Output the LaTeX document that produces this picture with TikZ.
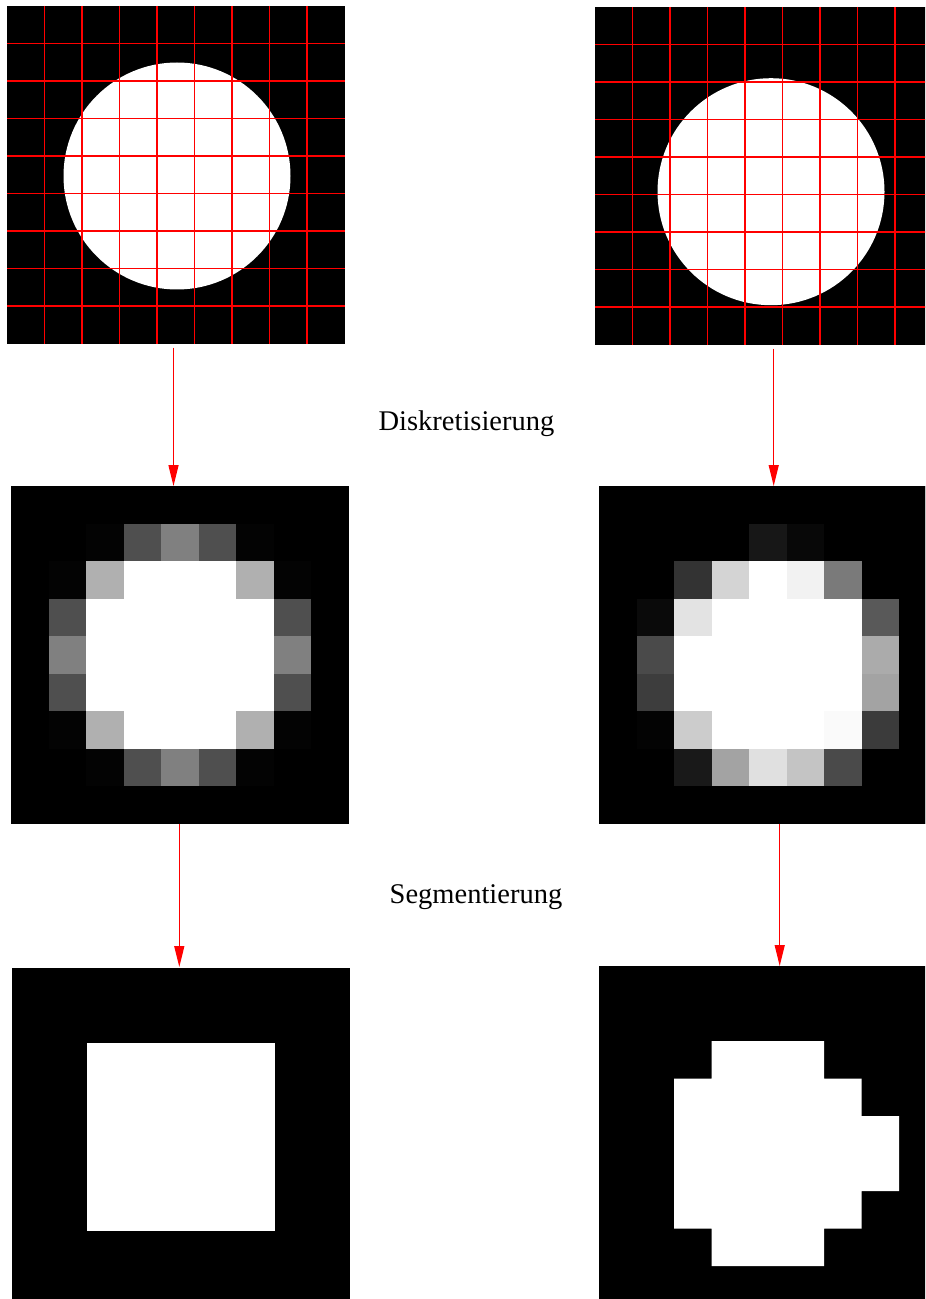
\documentclass[tikz,border=0pt]{standalone}
\usepackage{fontspec}
\setmainfont{Liberation Serif}
\usetikzlibrary{arrows.meta,positioning,calc}

\tikzset{
  panel/.style={fill=black, inner sep=0pt, outer sep=0pt,
    minimum width=168.75pt, minimum height=168.75pt, anchor=north west},
  flow/.style={-{Triangle[width=5pt,length=10.5pt]}, red, line width=0.65pt},
  gridline/.style={red, line width=0.7pt},
  stagelabel/.style={font=\fontsize{14.25}{17}\selectfont, anchor=base, inner sep=0pt}
}
\newcommand{\cellsz}{37.5}

\begin{document}
\begin{tikzpicture}[x=0.5pt,y=-0.5pt]
  \useasboundingbox (0,0) rectangle (925,1299);
  \clip (0,0) rectangle (925,1299);
  % the six images
  \node[panel] (tl) at (7,6) {};
  \node[panel] (tr) at (595,7) {};
  \node[panel] (ml) at (11,486) {};
  \node[panel] (mr) at (599,486) {};
  \node[panel] (bl) at (12,968) {};
  \node[panel] (br) at (599,966) {};

  % object and sampling grid
  \begin{scope}[shift={(tl.north west)}]
    \fill[white] (170,170) circle (113.5);
    \foreach \k in {1,...,8} {
      \draw[gridline] (\k*\cellsz,0) -- (\k*\cellsz,9*\cellsz);
      \draw[gridline] (0,\k*\cellsz) -- (9*\cellsz,\k*\cellsz);
    }
  \end{scope}
  \begin{scope}[shift={(tr.north west)}]
    \fill[white] (176,184.7) circle (113.5);
    \foreach \k in {1,...,8} {
      \draw[gridline] (\k*\cellsz,0) -- (\k*\cellsz,9*\cellsz);
      \draw[gridline] (0,\k*\cellsz) -- (9*\cellsz,\k*\cellsz);
    }
  \end{scope}

  % grey values after sampling
  \begin{scope}[shift={(ml.north west)}, scale=\cellsz]
    \foreach \row [count=\i from 0] in {
      {0,0,0,0,0,0,0,0,0},
      {0,0,1,31,50,31,1,0,0},
      {0,1,69,100,100,100,69,1,0},
      {0,31,100,100,100,100,100,31,0},
      {0,50,100,100,100,100,100,50,0},
      {0,31,100,100,100,100,100,31,0},
      {0,1,69,100,100,100,69,1,0},
      {0,0,1,31,50,31,1,0,0},
      {0,0,0,0,0,0,0,0,0}}
      \foreach \v [count=\j from 0] in \row
        \fill[white!\v!black] (\j,\i) rectangle ++(1.01,1.01);
  \end{scope}
  \begin{scope}[shift={(mr.north west)}, scale=\cellsz]
    \foreach \row [count=\i from 0] in {
      {0,0,0,0,0,0,0,0,0},
      {0,0,0,0,9,3,0,0,0},
      {0,0,20,83,100,95,48,0,0},
      {0,4,89,100,100,100,100,35,0},
      {0,29,100,100,100,100,100,67,0},
      {0,24,100,100,100,100,100,64,0},
      {0,1,80,100,100,100,98,23,0},
      {0,0,10,64,88,77,29,0,0},
      {0,0,0,0,0,0,0,0,0}}
      \foreach \v [count=\j from 0] in \row
        \fill[white!\v!black] (\j,\i) rectangle ++(1.01,1.01);
  \end{scope}

  % thresholded result
  \begin{scope}[shift={(bl.north west)}, scale=\cellsz]
    \fill[white] (2,2) rectangle (7,7);
  \end{scope}
  \begin{scope}[shift={(br.north west)}, scale=\cellsz]
    \fill[white] (3,2) -- (6,2) -- (6,3) -- (7,3) -- (7,4) -- (8,4) -- (8,6)
      -- (7,6) -- (7,7) -- (6,7) -- (6,8) -- (3,8) -- (3,7) -- (2,7) -- (2,3)
      -- (3,3) -- cycle;
  \end{scope}

  % arrows
  \coordinate (dl) at (173.5,0);
  \coordinate (dr) at (773.7,0);
  \coordinate (sl) at (179.3,0);
  \coordinate (sr) at (779.7,0);
  \draw[flow, shorten <=2pt] (tl.south -| dl) -- (ml.north -| dl);
  \draw[flow, shorten <=2pt] (tr.south -| dr) -- (mr.north -| dr);
  \draw[flow, shorten >=0.5pt] (ml.south -| sl) -- (bl.north -| sl);
  \draw[flow] (mr.south -| sr) -- (br.north -| sr);

  \node[stagelabel] (diskr) at (466.5,430) {Diskretisierung};
  \node[stagelabel] (segm) at (476,903) {Segmentierung};
\end{tikzpicture}
\end{document}
